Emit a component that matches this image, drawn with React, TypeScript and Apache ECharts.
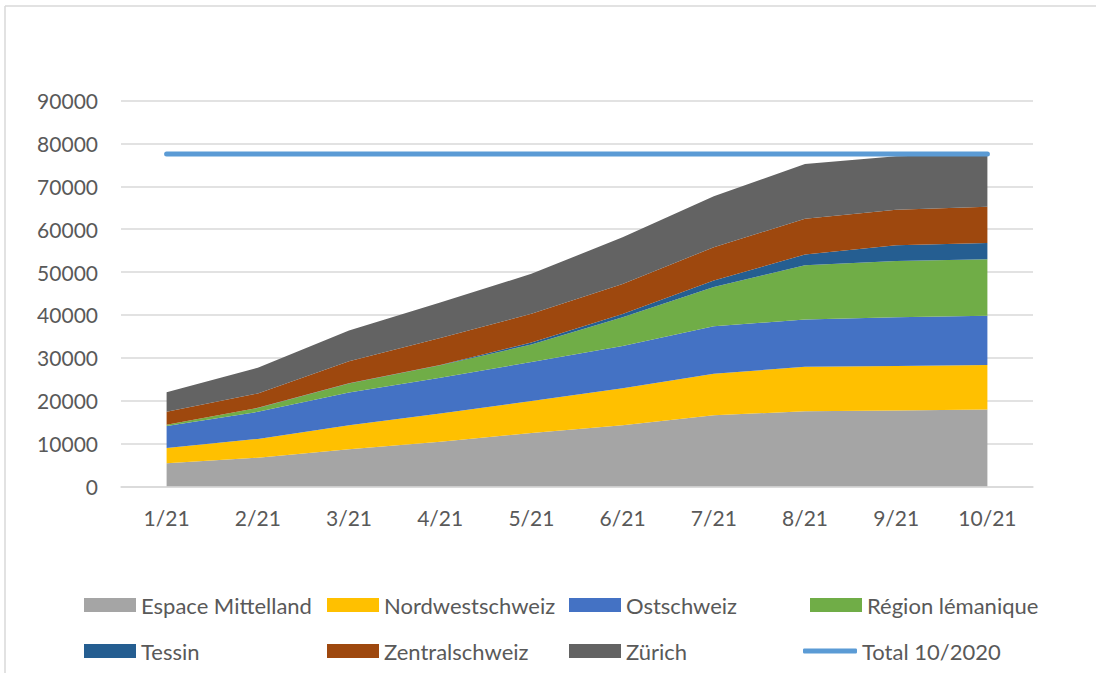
import React, { useEffect, useRef } from "react";
import * as echarts from "echarts";

const categories = ["1/21", "2/21", "3/21", "4/21", "5/21", "6/21", "7/21", "8/21", "9/21", "10/21"];
const espaceMittelland = [5400, 6700, 8700, 10450, 12500, 14300, 16600, 17550, 17700, 17950];
const nordwestschweiz = [3550, 4400, 5600, 6550, 7450, 8600, 9700, 10350, 10400, 10350];
const ostschweiz = [5150, 6300, 7600, 8350, 9100, 9850, 11050, 11050, 11350, 11500];
const regionLemanique = [300, 900, 2100, 2900, 4050, 6700, 9150, 12650, 13150, 13200];
const tessin = [0, 50, 100, 100, 450, 750, 1550, 2500, 3650, 3750];
const zentralschweiz = [3000, 3350, 5100, 6250, 6750, 7000, 7750, 8300, 8300, 8450];
const zurich = [4600, 6000, 7200, 8300, 9300, 10900, 11900, 12800, 12450, 12200];
const total2020 = [77500, 77500, 77500, 77500, 77500, 77500, 77500, 77500, 77500, 77500];

const areaSeries = [
  { name: "Espace Mittelland", data: espaceMittelland, color: "#A5A5A5" },
  { name: "Nordwestschweiz", data: nordwestschweiz, color: "#FFC000" },
  { name: "Ostschweiz", data: ostschweiz, color: "#4472C4" },
  { name: "Région lémanique", data: regionLemanique, color: "#70AD47" },
  { name: "Tessin", data: tessin, color: "#255E91" },
  { name: "Zentralschweiz", data: zentralschweiz, color: "#9E480E" },
  { name: "Zürich", data: zurich, color: "#636363" },
];

const FONT = "Lato, 'Liberation Sans', sans-serif";
const TEXT = "#595959";
const LEGEND_FONT = 22;
const AXIS_FONT = 21;

export default function App() {
  const ref = useRef<HTMLDivElement>(null);
  useEffect(() => {
    if (!ref.current) return;
    const chart = echarts.init(ref.current, null, { renderer: "svg" });

    const legendPos = [
      { name: "Espace Mittelland", left: 84, top: 593 },
      { name: "Nordwestschweiz", left: 327, top: 593 },
      { name: "Ostschweiz", left: 569, top: 593 },
      { name: "Région lémanique", left: 810, top: 593 },
      { name: "Tessin", left: 84, top: 639 },
      { name: "Zentralschweiz", left: 327, top: 639 },
      { name: "Zürich", left: 569, top: 639 },
    ];
    const legends: any[] = legendPos.map((p) => ({
      data: [p.name],
      left: p.left,
      top: p.top,
      padding: 0,
      itemWidth: 52,
      itemHeight: 14,
      itemGap: 0,
      icon: "rect",
      selectedMode: false,
      textStyle: { color: TEXT, fontSize: LEGEND_FONT, lineHeight: 24, fontFamily: FONT },
    }));
    legends.push({
      data: [{ name: "Total 10/2020", icon: "roundRect" }],
      left: 803,
      top: 639,
      padding: 0,
      itemWidth: 54,
      itemHeight: 5,
      itemGap: 0,
      selectedMode: false,
      itemStyle: { color: "#5B9BD5" },
      textStyle: { color: TEXT, fontSize: LEGEND_FONT, lineHeight: 24, fontFamily: FONT },
    });

    chart.setOption({
      animation: false,
      backgroundColor: "#FFFFFF",
      textStyle: { fontFamily: FONT },
      grid: { left: 121, right: 63, top: 100.5, height: 386 },
      legend: legends,
      graphic: [
        { type: "line", shape: { x1: 5, y1: 6, x2: 1096, y2: 6 }, style: { stroke: "#D9D9D9", lineWidth: 1.5 } },
        { type: "line", shape: { x1: 5, y1: 6, x2: 5, y2: 673 }, style: { stroke: "#D9D9D9", lineWidth: 1.5 } },
      ],
      xAxis: {
        type: "category",
        data: categories,
        boundaryGap: true,
        axisLine: { show: true, lineStyle: { color: "#D9D9D9", width: 1.5 } },
        axisTick: { show: false },
        axisLabel: { color: TEXT, fontSize: AXIS_FONT, fontFamily: FONT, margin: 20 },
      },
      yAxis: {
        type: "value",
        min: 0,
        max: 90000,
        interval: 10000,
        axisLine: { show: false },
        axisTick: { show: false },
        splitLine: { lineStyle: { color: "#D9D9D9", width: 1.5 } },
        axisLabel: {
          color: TEXT,
          fontSize: AXIS_FONT,
          fontFamily: FONT,
          margin: 23,
          formatter: (v: number) => String(v),
        },
      },
      series: [
        ...areaSeries.map((s) => ({
          name: s.name,
          type: "line",
          stack: "total",
          data: s.data,
          symbol: "none",
          lineStyle: { width: 0 },
          itemStyle: { color: s.color },
          areaStyle: { color: s.color, opacity: 1 },
        })),
        {
          name: "Total 10/2020",
          type: "line",
          data: total2020,
          symbol: "none",
          z: 5,
          itemStyle: { color: "#5B9BD5" },
          lineStyle: { color: "#5B9BD5", width: 5, cap: "round" },
        },
      ],
    });
    return () => chart.dispose();
  }, []);
  return (
    <div
      ref={ref}
      style={{ position: "fixed", left: 0, top: 0, width: 1096, height: 679, background: "#fff" }}
    />
  );
}
